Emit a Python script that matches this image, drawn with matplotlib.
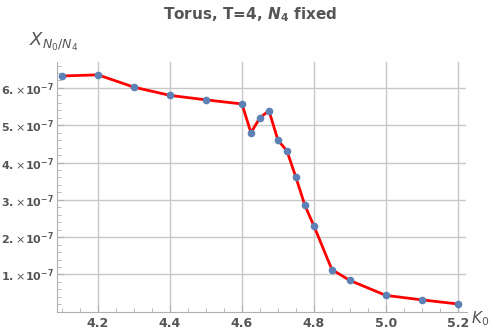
import matplotlib.pyplot as plt
from matplotlib.ticker import MultipleLocator

k0 = [4.1, 4.2, 4.3, 4.4, 4.5, 4.6, 4.625, 4.65, 4.675, 4.7, 4.725, 4.75,
      4.775, 4.8, 4.85, 4.9, 5.0, 5.1, 5.2]
chi = [6.32, 6.35, 6.02, 5.80, 5.68, 5.57, 4.80, 5.20, 5.39, 4.60, 4.31, 3.60,
       2.85, 2.30, 1.13, 0.84, 0.44, 0.32, 0.21]
chi = [v * 1e-7 for v in chi]

x_ticks = [4.2, 4.4, 4.6, 4.8, 5.0, 5.2]
x_labels = ["4.2", "4.4", "4.6", "4.8", "5.0", "5.2"]
y_ticks = [1e-7, 2e-7, 3e-7, 4e-7, 5e-7, 6e-7]
y_labels = [r"$\mathbf{%d.}\!\times\!\mathbf{10}^{\mathbf{-7}}$" % i for i in range(1, 7)]

plt.rcParams["font.family"] = "DejaVu Sans"
plt.rcParams["mathtext.fontset"] = "dejavusans"
gray = "#555555"

fig = plt.figure(figsize=(5, 3.36), dpi=100)
ax = fig.add_axes([0.114, 0.072, 0.819, 0.743])

ax.plot(k0, chi, color="red", lw=2, zorder=3)
ax.plot(k0, chi, "o", color="#5e81b5", ms=4.5, zorder=4)

ax.set_xlim(4.086, 5.224)
ax.set_ylim(0, 6.69e-7)

ax.set_xticks(x_ticks)
ax.set_xticklabels(x_labels)
ax.set_yticks(y_ticks)
ax.set_yticklabels(y_labels)
ax.xaxis.set_minor_locator(MultipleLocator(0.05))
ax.yaxis.set_minor_locator(MultipleLocator(0.2e-7))

ax.grid(True, which="major", color="#c8c8c8", lw=1)
ax.set_axisbelow(True)

for s in ["top", "right"]:
    ax.spines[s].set_visible(False)
for s in ["left", "bottom"]:
    ax.spines[s].set_color("#b0b0b0")

ax.tick_params(which="both", direction="in", color="#b0b0b0",
               labelcolor=gray)
ax.tick_params(axis="x", labelsize=9, pad=4)
ax.tick_params(axis="y", labelsize=8, pad=2)
ax.tick_params(which="major", length=5)
ax.tick_params(which="minor", length=3)
for lbl in ax.get_xticklabels():
    lbl.set_fontweight("bold")

fig.text(0.5, 0.955, r"Torus, T=4, $\mathbfit{N}_\mathbf{4}$ fixed", ha="center", va="center",
         color=gray, fontsize=11, fontweight="bold")
fig.text(0.058, 0.875, r"$X_{N_0/N_4}$", ha="left", va="center",
         color=gray, fontsize=13)
fig.text(0.942, 0.052, r"$K_0$", ha="left", va="center",
         color=gray, fontsize=11)

fig.savefig("out.png", dpi=100)
